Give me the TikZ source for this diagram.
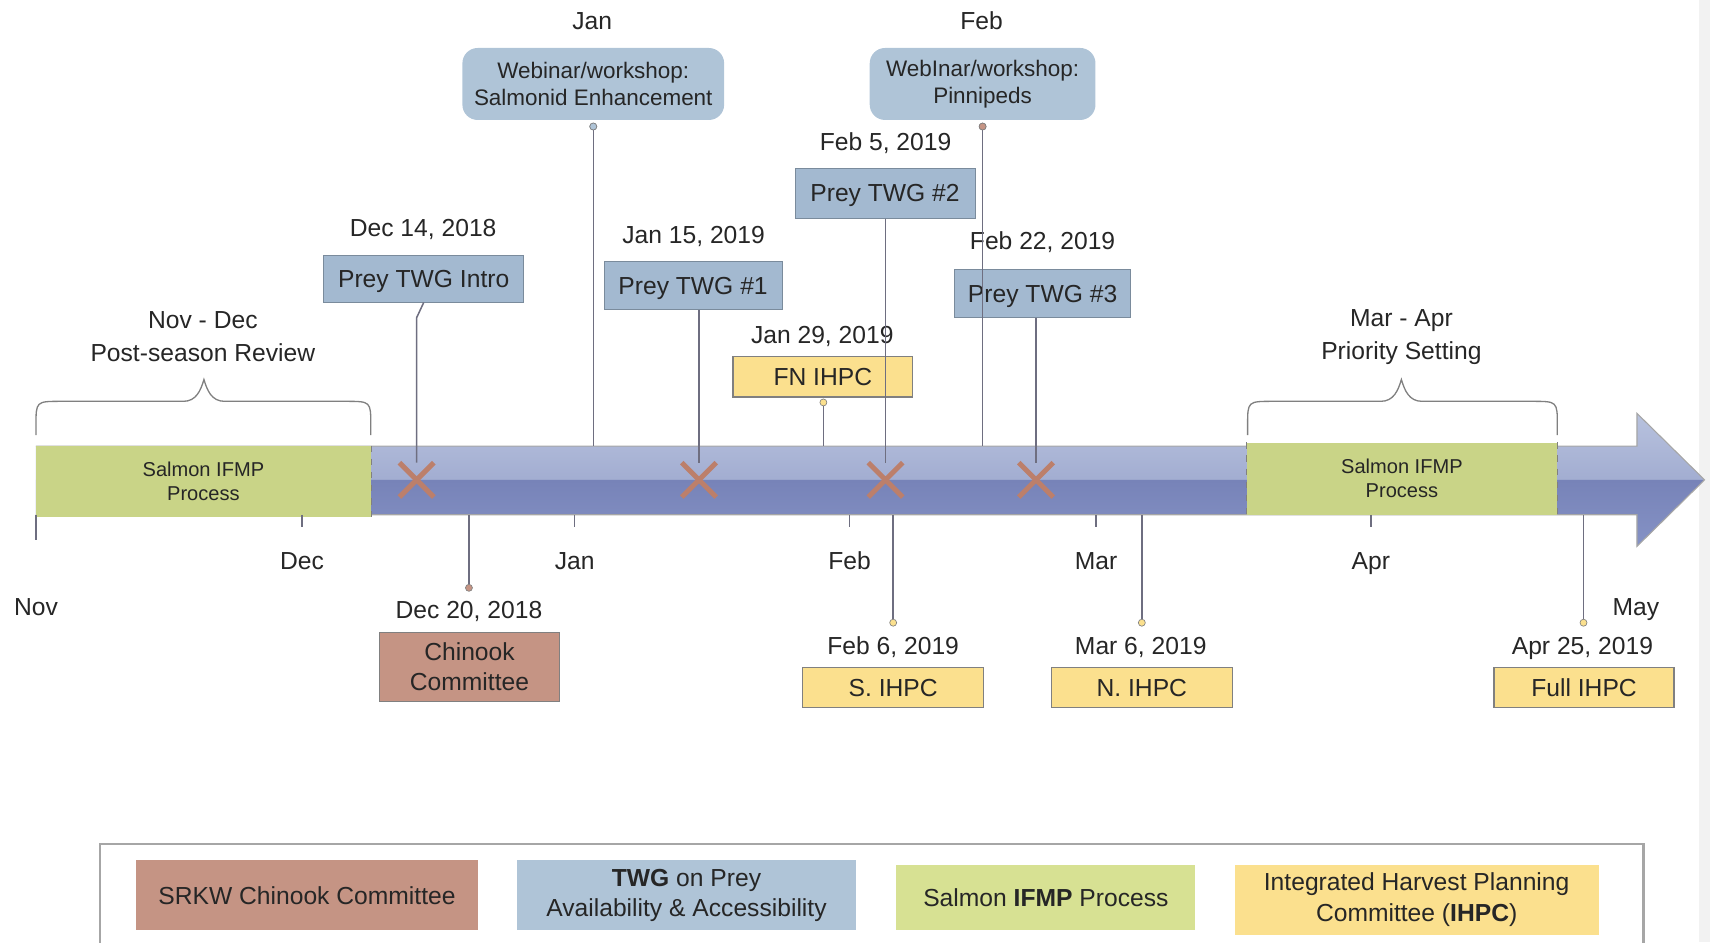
\documentclass[tikz,border=0pt]{standalone}
\usepackage{fontspec}
\setmainfont{Liberation Sans}
\usetikzlibrary{shapes.misc}

\definecolor{twgblue}{HTML}{A3B9D0}
\definecolor{webblue}{HTML}{AFC4D7}
\definecolor{ihpcyellow}{HTML}{FBE08E}
\definecolor{chinookred}{HTML}{C59484}
\definecolor{ifmpgreen}{HTML}{C9D487}
\definecolor{legendgreen}{HTML}{D7E193}
\definecolor{linegray}{HTML}{6E6E80}
\definecolor{crossred}{HTML}{BC7F6B}
\definecolor{barlight}{HTML}{B8C2DE}
\definecolor{barmid}{HTML}{A2ADD1}
\definecolor{bardark}{HTML}{7783B8}
\definecolor{bardeep}{HTML}{8592C5}

\begin{document}
\begin{tikzpicture}[
  x = 0.5pt, y = -0.5pt,
  every node/.style = {inner sep = 0pt, text = black!85, font = \fontsize{11.3}{14}\selectfont},
  datetext/.style = {text height = 8.1pt, text depth = 0pt},
  twgbox/.style = {datetext, draw = twgblue!75!black, line width = 0.4pt, fill = twgblue, minimum height = 22pt},
  ihpcbox/.style = {datetext, draw = gray, line width = 0.6pt, fill = ihpcyellow, minimum width = 83pt, minimum height = 18.5pt},
  webbox/.style = {align = center, fill = webblue, rounded corners = 7pt, minimum height = 33pt, font = \fontsize{10.3}{12.5}\selectfont},
  ifmpbar/.style = {align = center, fill = ifmpgreen, font = \fontsize{9.2}{11}\selectfont},
  legendbox/.style = {align = center, minimum height = 32pt},
  tickline/.style = {linegray, line width = 0.6pt},
  link/.style = {linegray, line width = 0.7pt},
  bracket/.style = {gray, line width = 0.6pt},
  dot/.style = {circle, draw = gray, line width = 0.3pt, minimum size = 3.2pt},
  cross/.style = {cross out, draw = crossred, line width = 2.3pt, minimum size = 13.5pt},
  ]
  \clip (0,0) rectangle (1568,864);
  \fill[gray!10] (1558,0) rectangle (1568,864);

  % timeline arrow
  \shade[top color = barlight, bottom color = barmid] (33,409) -- (1501,409) -- (1501,379) -- (1563,440) -- (33,440) -- cycle;
  \shade[top color = bardark, bottom color = bardeep] (33,440) -- (1563,440) -- (1501,501) -- (1501,472) -- (33,472) -- cycle;
  \draw[gray!70, line width = 0.5pt] (33,409) -- (1501,409) -- (1501,379) -- (1563,440) -- (1501,501) -- (1501,472) -- (33,472);
  \coordinate (bartop) at (0,409);
  \coordinate (barbot) at (0,472);

  \node[ifmpbar, minimum width = 153.5pt, minimum height = 32.5pt] (ifmpA) at (186.5,441.5) {Salmon IFMP\\Process};
  \draw[dashed, gray, line width = 0.5pt] (ifmpA.north east) -- (ifmpA.south east);
  \node[ifmpbar, minimum width = 142.5pt, minimum height = 33pt] (ifmpB) at (1285.5,439) {Salmon IFMP\\Process};
  \draw[dashed, gray, line width = 0.5pt] (ifmpB.north west) -- (ifmpB.south west);
  \draw[dashed, gray, line width = 0.5pt] (ifmpB.north east) -- (ifmpB.south east);

  % braces
  \draw[bracket] (33,399) -- (33,390) .. controls (33,368) .. (56,368) -- (168,368)
    .. controls (180,368) and (184,358) .. (187,348) .. controls (190,358) and (194,368) .. (206,368)
    -- (317,368) .. controls (340,368) .. (340,390) -- (340,399);
  \draw[bracket] (1144,399) -- (1144,390) .. controls (1144,368) .. (1167,368) -- (1266,368)
    .. controls (1278,368) and (1282,358) .. (1285,348) .. controls (1288,358) and (1292,368) .. (1304,368)
    -- (1405,368) .. controls (1428,368) .. (1428,390) -- (1428,399);
  \node[align = center, font = \fontsize{11.3}{15}\selectfont] (review) at (186,308.5) {Nov - Dec\\Post-season Review};
  \node[align = center, font = \fontsize{11.3}{15}\selectfont] (priority) at (1285,309) {Mar - Apr\\Priority Setting};

  % months
  \node[datetext] (mNov) at (33,556) {Nov};
  \node[datetext] (mDec) at (277,514) {Dec};
  \node[datetext] (mJan) at (527,514) {Jan};
  \node[datetext] (mFeb) at (779,514) {Feb};
  \node[datetext] (mMar) at (1005,514) {Mar};
  \node[datetext] (mApr) at (1257,514) {Apr};
  \node[datetext] (mMay) at (1500,556) {May};
  \draw[tickline] (mNov |- barbot) -- ++(0,23);
  \draw[tickline] (mDec |- barbot) -- ++(0,11);
  \draw[tickline] (mJan |- barbot) -- ++(0,11);
  \draw[tickline] (mFeb |- barbot) -- ++(0,11);
  \draw[tickline] (mMar |- barbot) -- ++(0,11);
  \draw[tickline] (mApr |- barbot) -- ++(0,11);

  % webinars
  \node[datetext] (janTop) at (543,19) {Jan};
  \node[datetext] (febTop) at (900,19) {Feb};
  \node[webbox, minimum width = 120pt] (webSE) at (544,77) {Webinar/workshop:\\Salmonid Enhancement};
  \node[webbox, minimum width = 103.5pt] (webPin) at (901,77) {WebInar/workshop:\\Pinnipeds};
  \node[dot, fill = webblue] (dotSE) at (544,116) {};
  \node[dot, fill = chinookred] (dotPin) at (901,116) {};

  % prey TWG meetings
  \node[datetext] (dIntro) at (388,209) {Dec 14, 2018};
  \node[twgbox, minimum width = 91.5pt, minimum height = 21.5pt] (twgIntro) at (388.5,255.5) {Prey TWG Intro};
  \node[datetext] (dOne) at (636,215) {Jan 15, 2019};
  \node[twgbox, minimum width = 81.5pt] (twgOne) at (635.5,262) {Prey TWG \#1};
  \node[datetext] (dTwo) at (812,130) {Feb 5, 2019};
  \node[twgbox, minimum width = 82.5pt, minimum height = 23pt] (twgTwo) at (811.5,177) {Prey TWG \#2};
  \node[datetext] (dThree) at (956,221) {Feb 22, 2019};
  \node[twgbox, minimum width = 81pt] (twgThree) at (956,269) {Prey TWG \#3};
  \node[cross] (xIntro) at (382,440) {};
  \node[cross] (xOne) at (641,440) {};
  \node[cross] (xTwo) at (812,440) {};
  \node[cross] (xThree) at (950,440) {};

  % IHPC and chinook meetings
  \node[datetext] (dFN) at (754,307) {Jan 29, 2019};
  \node[ihpcbox, minimum width = 82.5pt] (fnIHPC) at (754.5,345.5) {FN IHPC};
  \node[dot, fill = ihpcyellow] (dotFN) at (755,369) {};

  \node[dot, fill = chinookred] (dotChin) at (430,539) {};
  \node[datetext] (dChin) at (430,559) {Dec 20, 2018};
  \node[align = center, draw = gray, line width = 0.6pt, fill = chinookred, minimum width = 82.5pt, minimum height = 31.5pt] (chinook) at (430.5,611.5) {Chinook\\Committee};

  \node[dot, fill = ihpcyellow] (dotS) at (819,571) {};
  \node[datetext] (dS) at (819,592) {Feb 6, 2019};
  \node[ihpcbox] (sIHPC) at (819,630.5) {S. IHPC};
  \node[dot, fill = ihpcyellow] (dotN) at (1047,571) {};
  \node[datetext] (dN) at (1046,592) {Mar 6, 2019};
  \node[ihpcbox] (nIHPC) at (1047,630.5) {N. IHPC};
  \node[dot, fill = ihpcyellow] (dotFull) at (1452,571) {};
  \node[datetext] (dFull) at (1451,592) {Apr 25, 2019};
  \node[ihpcbox, minimum width = 82.5pt] (fullIHPC) at (1452.5,630.5) {Full IHPC};

  % connectors
  \draw[link] (dotSE) -- (dotSE |- bartop);
  \draw[link] (dotPin) -- (dotPin |- bartop);
  \draw[link] (dotFN) -- (dotFN |- bartop);
  \draw[link] (twgIntro.south) -- ++(-6.5,14) -- (xIntro.north);
  \draw[link] (xOne |- twgOne.south) -- (xOne.north);
  \draw[link] (xTwo |- twgTwo.south) -- (xTwo.north);
  \draw[link] (xThree |- twgThree.south) -- (xThree.north);
  \draw[link] (dotChin |- barbot) -- (dotChin);
  \draw[link] (dotS |- barbot) -- (dotS);
  \draw[link] (dotN |- barbot) -- (dotN);
  \draw[link] (dotFull |- barbot) -- (dotFull);
  \node[dot, fill = webblue] at (dotSE) {};
  \node[dot, fill = chinookred] at (dotPin) {};

  % legend
  \draw[gray!70, line width = 1pt] (92,880) -- (92,774) -- (1507,774) -- (1507,880);
  \node[legendbox, fill = chinookred, minimum width = 156.5pt] (lgChinook) at (281.5,821) {SRKW Chinook Committee};
  \node[legendbox, fill = webblue, minimum width = 155.5pt] (lgTWG) at (629.5,821) {\textbf{TWG} on Prey\\Availability \& Accessibility};
  \node[legendbox, fill = legendgreen, minimum width = 137pt, minimum height = 30pt] (lgIFMP) at (959,823) {Salmon \textbf{IFMP} Process};
  \node[legendbox, fill = ihpcyellow, minimum width = 167pt] (lgIHPC) at (1299,825) {Integrated Harvest Planning\\Committee (\textbf{IHPC})};
\end{tikzpicture}
\end{document}
